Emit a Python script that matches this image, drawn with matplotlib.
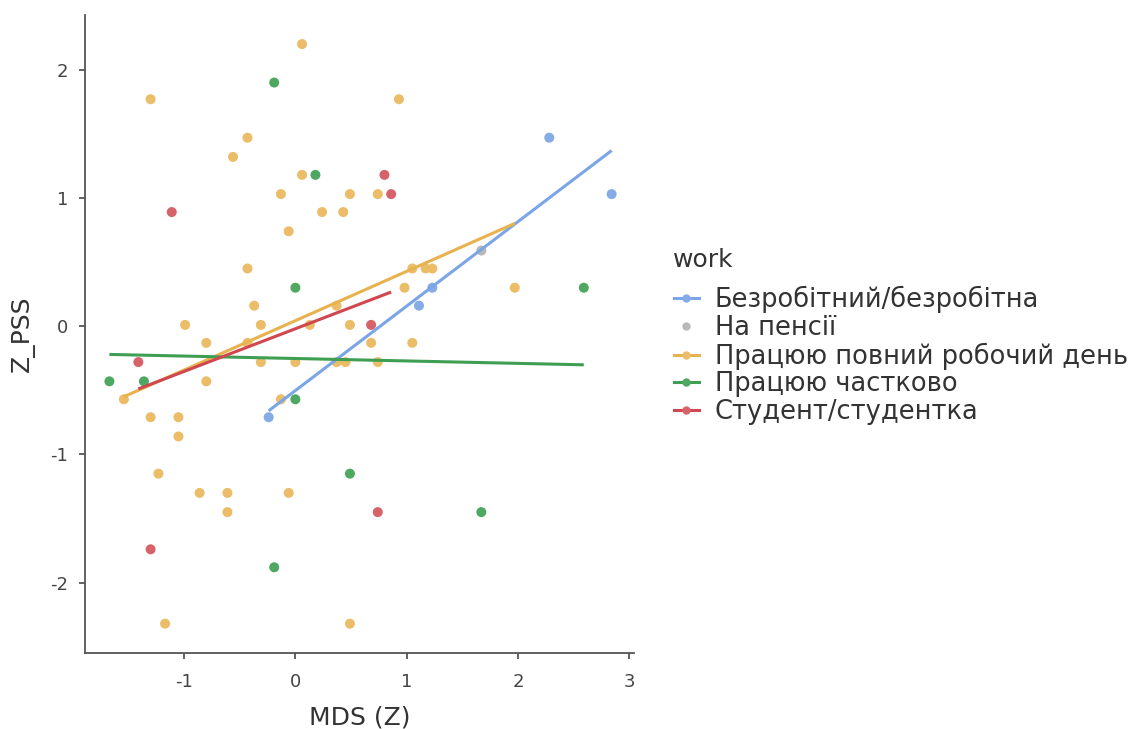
import numpy as np
import matplotlib
matplotlib.use("Agg")
import matplotlib.pyplot as plt
from matplotlib.lines import Line2D

plt.rcParams['font.family'] = ['DejaVu Sans']

# ------------------------------------------------------------------
# Datos
# ------------------------------------------------------------------
groups = ["Безробітний/безробітна", "На пенсії", "Працюю повний робочий день",
          "Працюю частково", "Студент/студентка"]

colors_pt = ["#86acE6", "#b8b8b8", "#ebbd68", "#4fa862", "#d6636a"]
colors_ln = ["#7aa5e6", "#b0b0b0", "#e8b24e", "#3e9e52", "#d0474f"]

x_unemp = [-0.24, 1.11, 1.23, 2.28, 2.84]
y_unemp = [-0.71, 0.16, 0.30, 1.47, 1.03]

x_retired = [1.67]
y_retired = [0.59]

x_full = [0.06, -1.30, -0.43, -0.56, 0.93, 0.06, -0.13, 0.49, 0.74, 0.24, 0.43,
          -0.06, -0.43, -0.37, -0.99, -0.31, 0.13, 0.49, 1.05, 1.17, 1.23, 0.98,
          1.97, 0.37, -0.80, -0.43, -0.31, 0.00, 0.37, 0.45, 0.74, 0.68, 1.05,
          -0.80, -1.54, -0.13, -1.30, -1.05, -1.05, -1.23, -0.86, -0.61, -0.06,
          -0.61, -1.17, 0.49]
y_full = [2.20, 1.77, 1.47, 1.32, 1.77, 1.18, 1.03, 1.03, 1.03, 0.89, 0.89,
          0.74, 0.45, 0.16, 0.01, 0.01, 0.01, 0.01, 0.45, 0.45, 0.45, 0.30,
          0.30, 0.16, -0.13, -0.13, -0.28, -0.28, -0.28, -0.28, -0.28, -0.13, -0.13,
          -0.43, -0.57, -0.57, -0.71, -0.71, -0.86, -1.15, -1.30, -1.30, -1.30,
          -1.45, -2.32, -2.32]

x_part = [-0.19, 0.18, 0.00, 2.59, -1.67, -1.36, 0.00, 0.49, 1.67, -0.19]
y_part = [1.90, 1.18, 0.30, 0.30, -0.43, -0.43, -0.57, -1.15, -1.45, -1.88]

x_stud = [-1.11, 0.80, 0.86, 0.68, -1.41, -1.30, 0.74]
y_stud = [0.89, 1.18, 1.03, 0.01, -0.28, -1.74, -1.45]

xs = [x_unemp, x_retired, x_full, x_part, x_stud]
ys = [y_unemp, y_retired, y_full, y_part, y_stud]

# Rectas de regresión (pendiente, intercepto)
slopes = [0.659, None, 0.385, -0.019, 0.333]
intercepts = [-0.502, None, 0.043, -0.252, -0.020]

# ------------------------------------------------------------------
# Figura
# ------------------------------------------------------------------
fig = plt.figure(figsize=(11.32, 7.29), dpi=100)
ax = fig.add_axes([0.075, 0.104, 0.485, 0.876])

for i in range(len(groups)):
    ax.scatter(xs[i], ys[i], s=52, color=colors_pt[i], edgecolors='none',
               zorder=3)
    if slopes[i] is not None:
        xr = np.array([min(xs[i]), max(xs[i])])
        ax.plot(xr, slopes[i] * xr + intercepts[i], color=colors_ln[i],
                linewidth=2.2, zorder=4, solid_capstyle='butt')

ax.set_xlim(-1.89, 3.04)
ax.set_ylim(-2.55, 2.43)
ax.set_xticks([-1, 0, 1, 2, 3])
ax.set_yticks([-2, -1, 0, 1, 2])
ax.set_xticklabels(["-1", "0", "1", "2", "3"])
ax.set_yticklabels(["-2", "-1", "0", "1", "2"])

for s in ['top', 'right']:
    ax.spines[s].set_visible(False)
for s in ['left', 'bottom']:
    ax.spines[s].set_color('#555555')
    ax.spines[s].set_linewidth(1.3)
ax.tick_params(colors='#555555', labelcolor='#444444', labelsize=13,
               length=4, width=1.3)
ax.tick_params(axis='x', pad=10)
ax.tick_params(axis='y', pad=8)

ax.set_xlabel("MDS (Z)", fontsize=18, color='#333333', labelpad=11)
ax.set_ylabel("Z_PSS", fontsize=18, color='#333333', labelpad=11)

handles = []
for i in range(len(groups)):
    if slopes[i] is not None:
        h = Line2D([], [], color=colors_ln[i], linewidth=2.2, marker='o',
                   markersize=6, markerfacecolor=colors_pt[i],
                   markeredgecolor='none')
    else:
        h = Line2D([], [], color='none', marker='o', markersize=6,
                   markerfacecolor=colors_pt[i], markeredgecolor='none')
    handles.append(h)

fig.text(0.5945, 1 - 260 / 729, "work", fontsize=18, color='#333333',
         va='center', ha='left')
leg = fig.legend(handles, groups, loc='upper left',
                 bbox_to_anchor=(0.595, 1 - 286 / 729), frameon=False,
                 fontsize=18.5, handlelength=1.0, handletextpad=0.6,
                 labelspacing=0.06, borderaxespad=0, borderpad=0)
for t in leg.get_texts():
    t.set_color('#333333')

fig.savefig("out.png", dpi=100, facecolor='white')
